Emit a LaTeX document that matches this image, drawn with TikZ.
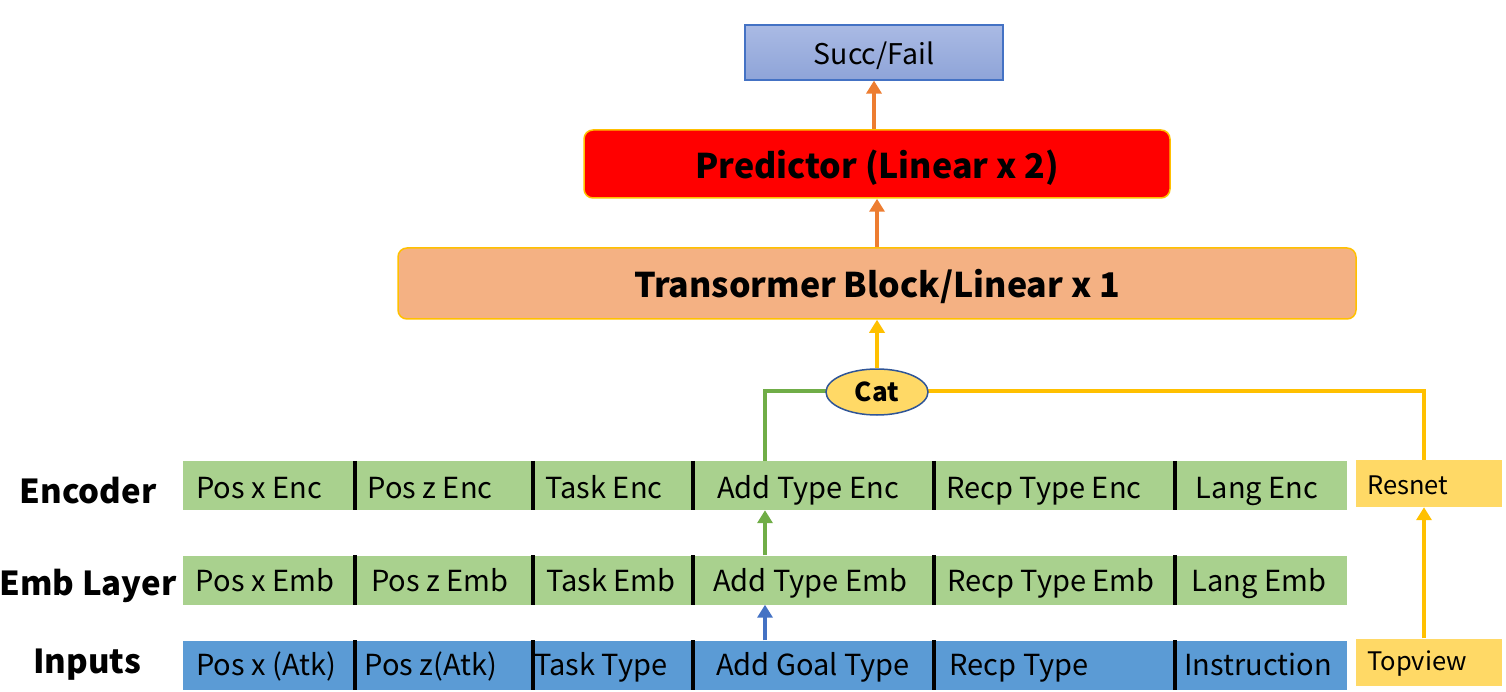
\documentclass[tikz,border=0pt]{standalone}
\usepackage{fontspec}
\setmainfont{Noto Sans CJK SC}
\usetikzlibrary{arrows.meta,shapes.geometric}
\definecolor{cgreen}{HTML}{A9D18E}
\definecolor{cblue}{HTML}{5B9BD5}
\definecolor{cyel}{HTML}{FFD966}
\definecolor{corange}{HTML}{ED7D31}
\definecolor{cgold}{HTML}{FFC000}
\definecolor{clgreen}{HTML}{70AD47}
\definecolor{carrblue}{HTML}{4472C4}
\definecolor{cpeach}{HTML}{F4B183}
\definecolor{cdark}{HTML}{2F5597}
\definecolor{stop}{HTML}{AABAE4}
\definecolor{sbot}{HTML}{8EA4D8}
\tikzset{
  cell/.style={rectangle, inner sep=0pt, minimum height=49pt},
  txt/.style={inner sep=0pt, font=\fontsize{29}{32}\selectfont, anchor=base},
  bigtxt/.style={inner sep=0pt, font=\fontsize{34}{38}\selectfont\bfseries, anchor=base},
  rowlabel/.style={inner sep=0pt, font=\fontsize{33}{36}\selectfont\bfseries, anchor=base},
  sep/.style={line width=4pt, black},
  conn/.style={line width=4pt, -{Triangle[width=15pt,length=13pt]}},
  plain/.style={line width=4pt},
}
\begin{document}
\begin{tikzpicture}[x=1pt,y=-1pt]
\useasboundingbox (0,0) rectangle (1506,692);
% top boxes
\node[rectangle, draw=carrblue, line width=1.2pt, top color=stop, bottom color=sbot, minimum width=258pt, minimum height=55pt, inner sep=0pt] (succ) at (874,52.5) {};
\node[txt, font=\fontsize{28.5}{32}\selectfont] (tsucc) at (874,65) {Succ/Fail};
\node[rectangle, rounded corners=9pt, draw=cgold, line width=1.5pt, fill=red, minimum width=586pt, minimum height=68pt, inner sep=0pt] (pred) at (877,164) {};
\node[bigtxt] (tpred) at (877,179) {Predictor (Linear x 2)};
\node[rectangle, rounded corners=9pt, draw=cgold, line width=1.5pt, fill=cpeach, minimum width=958pt, minimum height=71pt, inner sep=0pt] (trans) at (877,283.5) {};
\node[bigtxt] (ttrans) at (877,298) {Transormer Block/Linear x 1};
% rows: encoder
\node[cell, fill=cgreen, minimum width=172pt] (e1) at (269,485.5) {};
\node[cell, fill=cgreen, minimum width=178pt] (e2) at (444,485.5) {};
\node[cell, fill=cgreen, minimum width=160pt] (e3) at (613,485.5) {};
\node[cell, fill=cgreen, minimum width=240pt] (e4) at (814,485.5) {};
\node[cell, fill=cgreen, minimum width=240pt] (e5) at (1055,485.5) {};
\node[cell, fill=cgreen, minimum width=171pt] (e6) at (1261,485.5) {};
% emb
\node[cell, fill=cgreen, minimum width=172pt] (m1) at (269,580) {};
\node[cell, fill=cgreen, minimum width=178pt] (m2) at (444,580) {};
\node[cell, fill=cgreen, minimum width=160pt] (m3) at (613,580) {};
\node[cell, fill=cgreen, minimum width=240pt] (m4) at (814,580) {};
\node[cell, fill=cgreen, minimum width=240pt] (m5) at (1055,580) {};
\node[cell, fill=cgreen, minimum width=171pt] (m6) at (1261,580) {};
% inputs
\node[cell, fill=cblue, minimum width=172pt] (i1) at (269,665) {};
\node[cell, fill=cblue, minimum width=178pt] (i2) at (444,665) {};
\node[cell, fill=cblue, minimum width=160pt] (i3) at (613,665) {};
\node[cell, fill=cblue, minimum width=240pt] (i4) at (814,665) {};
\node[cell, fill=cblue, minimum width=240pt] (i5) at (1055,665) {};
\node[cell, fill=cblue, minimum width=171pt] (i6) at (1261,665) {};
% separators
\foreach \r in {e,m,i}{
  \foreach \a in {1,2,3,4,5}{
    \draw[sep] (\r\a.north east) -- (\r\a.south east);
  }
}
% yellow side boxes
\node[rectangle, fill=cyel, minimum width=146pt, minimum height=47pt, inner sep=0pt] (resnet) at (1429,483.5) {};
\node[rectangle, fill=cyel, minimum width=146pt, minimum height=47pt, inner sep=0pt] (topview) at (1429,662) {};
\node[txt, anchor=base west, font=\fontsize{25.5}{28}\selectfont] (tres) at (1367,494) {Resnet};
\node[txt, anchor=base west, font=\fontsize{25.5}{28}\selectfont] (ttop) at (1367,670) {Topview};
% texts
\node[txt] (te1) at (259,498) {Pos x Enc};
\node[txt] (te2) at (430,498) {Pos z Enc};
\node[txt] (te3) at (604,498) {Task Enc};
\node[txt] (te4) at (808,498) {Add Type Enc};
\node[txt] (te5) at (1044,498) {Recp Type Enc};
\node[txt] (te6) at (1257,498) {Lang Enc};
\node[txt] (tm1) at (265,591) {Pos x Emb};
\node[txt] (tm2) at (440,591) {Pos z Emb};
\node[txt] (tm3) at (611,591) {Task Emb};
\node[txt] (tm4) at (810,591) {Add Type Emb};
\node[txt] (tm5) at (1051,591) {Recp Type Emb};
\node[txt] (tm6) at (1259,591) {Lang Emb};
\node[txt] (ti1) at (266,675) {Pos x (Atk)};
\node[txt] (ti2) at (431,675) {Pos z(Atk)};
\node[txt] (ti3) at (601,675) {Task Type};
\node[txt] (ti4) at (813,675) {Add Goal Type};
\node[txt] (ti5) at (1019,675) {Recp Type};
\node[txt] (ti6) at (1258,675) {Instruction};
% row labels
\node[rowlabel] (lenc) at (88,503) {Encoder};
\node[rowlabel] (lemb) at (88,595) {Emb Layer};
\node[rowlabel] (lin) at (87,673) {Inputs};
% connectors
\coordinate (ax) at (765,0);
\coordinate (rx) at (1424,0);
\coordinate (cy) at (0,391);
\draw[plain, clgreen] (e4.north -| ax) -- (cy -| ax) -- (cy -| 826,0);
\draw[plain, cgold] (cy -| 928,0) -- (cy -| rx) -- (resnet.north -| rx);
\node[ellipse, draw=cdark, line width=1.5pt, fill=cyel, minimum width=102pt, minimum height=46pt, inner sep=0pt,
  font=\fontsize{26}{28}\selectfont\bfseries] (cat) at (877,392) {Cat};
\draw[conn, cgold] (cat.north) -- (trans.south -| cat.north);
\draw[conn, corange] (trans.north) -- (pred.south);
\draw[conn, corange] (pred.north -| succ.south) -- (succ.south);
\draw[conn, clgreen] (m4.north -| ax) -- (e4.south -| ax);
\draw[conn, carrblue] (i4.north -| ax) -- (m4.south -| ax);
\draw[conn, cgold] (topview.north -| rx) -- (resnet.south -| rx);
\end{tikzpicture}
\end{document}
